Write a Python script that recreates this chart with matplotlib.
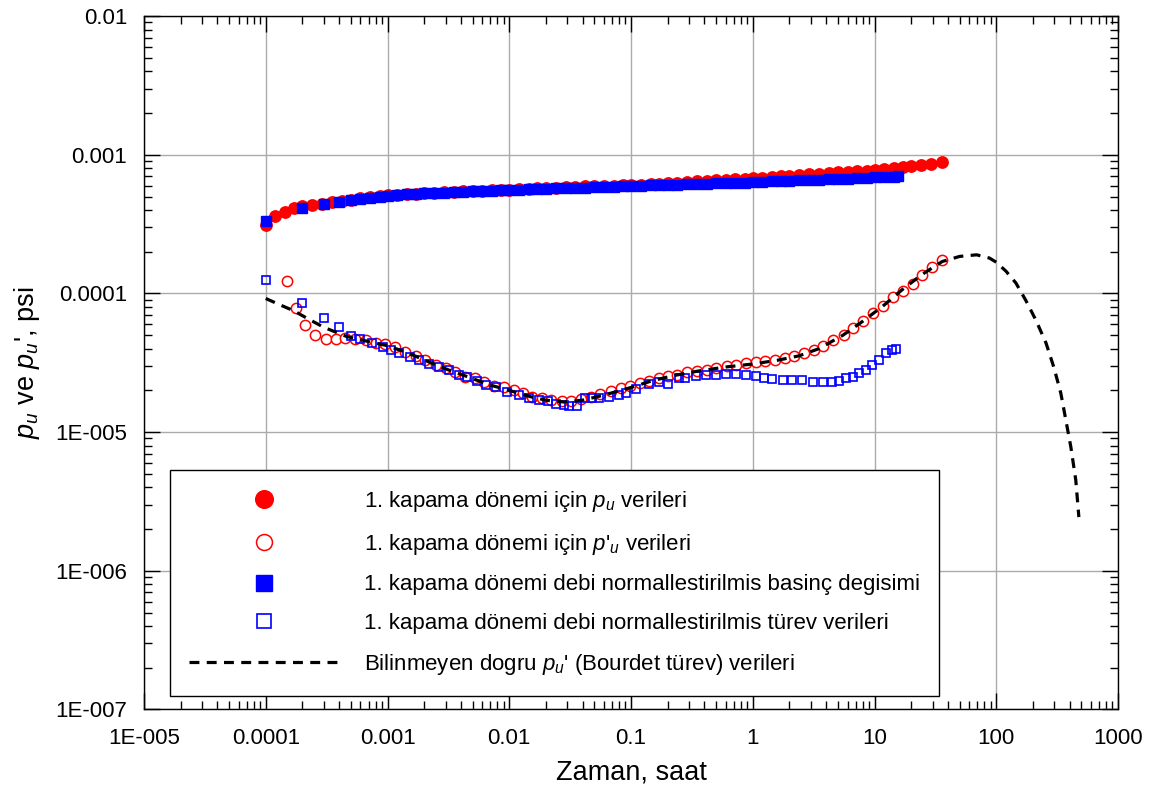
import matplotlib
matplotlib.use("Agg")
import matplotlib.pyplot as plt
from matplotlib.ticker import FixedLocator, FixedFormatter, LogLocator, NullFormatter

params = {
    "font.family": "Liberation Sans",
    "mathtext.fontset": "custom",
    "mathtext.rm": "Liberation Sans",
    "mathtext.it": "Liberation Sans:italic",
    "mathtext.bf": "Liberation Sans:bold",
    "font.size": 16,
    "axes.linewidth": 1.0,
}
matplotlib.rcParams.update(params)

# 1. kapama donemi basinc verileri (pu)
t_pu = [1.0e-4, 1.2e-4, 1.45e-4, 1.7e-4, 2.0e-4, 2.4e-4, 2.9e-4, 3.5e-4, 4.2e-4, 5.0e-4,
        6.0e-4, 7.2e-4, 8.6e-4, 1.0e-3, 1.2e-3, 1.45e-3, 1.7e-3, 2.0e-3, 2.4e-3, 2.9e-3,
        3.5e-3, 4.2e-3, 5.0e-3, 6.0e-3, 7.2e-3, 8.6e-3, 0.010, 0.012, 0.0145, 0.017,
        0.020, 0.024, 0.029, 0.035, 0.042, 0.050, 0.060, 0.072, 0.086, 0.10,
        0.12, 0.145, 0.17, 0.20, 0.24, 0.29, 0.35, 0.42, 0.50, 0.60,
        0.72, 0.86, 1.0, 1.2, 1.45, 1.7, 2.0, 2.4, 2.9, 3.5,
        4.2, 5.0, 6.0, 7.2, 8.6, 10.0, 12.0, 14.5, 17.0, 20.0,
        24.0, 29.0, 35.7]
pu = [3.13e-4, 3.60e-4, 3.90e-4, 4.10e-4, 4.25e-4, 4.35e-4, 4.45e-4, 4.55e-4, 4.65e-4, 4.75e-4,
      4.85e-4, 4.95e-4, 5.04e-4, 5.12e-4, 5.16e-4, 5.20e-4, 5.24e-4, 5.28e-4, 5.32e-4, 5.36e-4,
      5.40e-4, 5.44e-4, 5.48e-4, 5.51e-4, 5.54e-4, 5.57e-4, 5.60e-4, 5.64e-4, 5.68e-4, 5.72e-4,
      5.76e-4, 5.80e-4, 5.84e-4, 5.88e-4, 5.91e-4, 5.94e-4, 5.97e-4, 6.00e-4, 6.03e-4, 6.05e-4,
      6.10e-4, 6.15e-4, 6.20e-4, 6.25e-4, 6.31e-4, 6.37e-4, 6.43e-4, 6.49e-4, 6.55e-4, 6.61e-4,
      6.66e-4, 6.71e-4, 6.76e-4, 6.84e-4, 6.92e-4, 7.00e-4, 7.08e-4, 7.16e-4, 7.24e-4, 7.32e-4,
      7.40e-4, 7.47e-4, 7.54e-4, 7.61e-4, 7.68e-4, 7.75e-4, 7.87e-4, 8.00e-4, 8.13e-4, 8.27e-4,
      8.42e-4, 8.62e-4, 8.90e-4]

# 1. kapama donemi turev verileri (pu')
t_dpu = [1.5e-4, 1.76e-4, 2.1e-4, 2.55e-4, 3.1e-4, 3.75e-4, 4.5e-4, 5.4e-4, 6.6e-4, 8.0e-4,
         9.6e-4, 1.16e-3, 1.4e-3, 1.7e-3, 2.05e-3, 2.5e-3, 3.0e-3, 3.6e-3, 4.3e-3, 5.2e-3,
         6.2e-3, 7.5e-3, 9.0e-3, 0.011, 0.013, 0.0155, 0.0185, 0.022, 0.027, 0.032,
         0.039, 0.047, 0.056, 0.068, 0.082, 0.098, 0.118, 0.14, 0.17, 0.20,
         0.24, 0.29, 0.35, 0.42, 0.50, 0.61, 0.73, 0.88, 1.06, 1.27,
         1.52, 1.83, 2.2, 2.65, 3.2, 3.8, 4.6, 5.6, 6.7, 8.1,
         9.7, 11.7, 14.1, 17.0, 20.6, 24.5, 29.5, 35.7]
dpu = [1.24e-4, 7.9e-5, 5.9e-5, 5.0e-5, 4.7e-5, 4.7e-5, 4.8e-5, 4.7e-5, 4.6e-5, 4.4e-5,
       4.3e-5, 4.1e-5, 3.8e-5, 3.55e-5, 3.3e-5, 3.05e-5, 2.9e-5, 2.7e-5, 2.5e-5, 2.45e-5,
       2.3e-5, 2.15e-5, 2.1e-5, 2.0e-5, 1.9e-5, 1.8e-5, 1.75e-5, 1.7e-5, 1.68e-5, 1.68e-5,
       1.72e-5, 1.78e-5, 1.87e-5, 1.97e-5, 2.07e-5, 2.15e-5, 2.25e-5, 2.35e-5, 2.45e-5, 2.55e-5,
       2.6e-5, 2.7e-5, 2.75e-5, 2.8e-5, 2.9e-5, 3.0e-5, 3.05e-5, 3.15e-5, 3.2e-5, 3.25e-5,
       3.3e-5, 3.4e-5, 3.55e-5, 3.7e-5, 3.9e-5, 4.2e-5, 4.6e-5, 5.0e-5, 5.6e-5, 6.3e-5,
       7.2e-5, 8.1e-5, 9.4e-5, 1.05e-4, 1.18e-4, 1.35e-4, 1.55e-4, 1.73e-4]

# debi normallestirilmis basinc degisimi
t_pn = [1.0e-4, 2.0e-4, 3.0e-4, 4.0e-4, 5.0e-4, 6.0e-4, 7.2e-4, 8.6e-4, 1.0e-3, 1.2e-3,
        1.45e-3, 1.7e-3, 2.0e-3, 2.4e-3, 2.9e-3, 3.5e-3, 4.2e-3, 5.0e-3, 6.0e-3, 7.2e-3,
        8.6e-3, 0.010, 0.012, 0.0145, 0.017, 0.020, 0.024, 0.029, 0.035, 0.042,
        0.050, 0.060, 0.072, 0.086, 0.10, 0.12, 0.145, 0.17, 0.20, 0.24,
        0.29, 0.35, 0.42, 0.50, 0.60, 0.72, 0.86, 1.0, 1.2, 1.45,
        1.7, 2.0, 2.4, 2.9, 3.5, 4.2, 5.0, 6.0, 7.2, 8.6,
        10.0, 12.0, 14.5, 15.5]
pn = [3.35e-4, 4.15e-4, 4.40e-4, 4.60e-4, 4.72e-4, 4.82e-4, 4.92e-4, 5.00e-4, 5.08e-4, 5.13e-4,
      5.18e-4, 5.22e-4, 5.26e-4, 5.30e-4, 5.34e-4, 5.38e-4, 5.42e-4, 5.45e-4, 5.48e-4, 5.51e-4,
      5.54e-4, 5.57e-4, 5.60e-4, 5.63e-4, 5.66e-4, 5.69e-4, 5.72e-4, 5.75e-4, 5.78e-4, 5.81e-4,
      5.84e-4, 5.87e-4, 5.90e-4, 5.93e-4, 5.95e-4, 5.98e-4, 6.01e-4, 6.04e-4, 6.07e-4, 6.10e-4,
      6.13e-4, 6.16e-4, 6.19e-4, 6.22e-4, 6.25e-4, 6.28e-4, 6.31e-4, 6.34e-4, 6.38e-4, 6.42e-4,
      6.46e-4, 6.50e-4, 6.54e-4, 6.58e-4, 6.62e-4, 6.66e-4, 6.70e-4, 6.74e-4, 6.78e-4, 6.82e-4,
      6.86e-4, 6.90e-4, 6.95e-4, 6.98e-4]

# debi normallestirilmis turev verileri
t_dpn = [1.0e-4, 2.0e-4, 3.0e-4, 4.0e-4, 5.0e-4, 6.0e-4, 7.5e-4, 9.2e-4, 1.07e-3, 1.25e-3,
         1.53e-3, 1.8e-3, 2.2e-3, 2.65e-3, 3.2e-3, 3.9e-3, 4.5e-3, 5.4e-3, 6.5e-3, 7.8e-3,
         9.5e-3, 0.012, 0.0145, 0.0175, 0.021, 0.024, 0.028, 0.031, 0.036, 0.042,
         0.048, 0.055, 0.066, 0.080, 0.091, 0.110, 0.141, 0.171, 0.20, 0.25,
         0.28, 0.34, 0.41, 0.50, 0.60, 0.73, 0.88, 1.06, 1.24, 1.45,
         1.76, 2.12, 2.56, 3.1, 3.74, 4.5, 5.1, 5.8, 6.6, 7.5,
         8.5, 9.6, 10.9, 12.4, 14.0, 15.0]
dpn = [1.26e-4, 8.6e-5, 6.6e-5, 5.7e-5, 4.9e-5, 4.7e-5, 4.4e-5, 4.1e-5, 3.9e-5, 3.7e-5,
       3.5e-5, 3.3e-5, 3.1e-5, 2.95e-5, 2.8e-5, 2.6e-5, 2.5e-5, 2.35e-5, 2.2e-5, 2.1e-5,
       1.95e-5, 1.85e-5, 1.75e-5, 1.7e-5, 1.68e-5, 1.6e-5, 1.56e-5, 1.55e-5, 1.55e-5, 1.76e-5,
       1.76e-5, 1.76e-5, 1.8e-5, 1.85e-5, 1.9e-5, 2.06e-5, 2.24e-5, 2.3e-5, 2.24e-5, 2.44e-5,
       2.44e-5, 2.53e-5, 2.58e-5, 2.58e-5, 2.62e-5, 2.62e-5, 2.6e-5, 2.53e-5, 2.44e-5, 2.4e-5,
       2.37e-5, 2.37e-5, 2.37e-5, 2.3e-5, 2.3e-5, 2.3e-5, 2.34e-5, 2.44e-5, 2.5e-5, 2.65e-5,
       2.8e-5, 3.04e-5, 3.3e-5, 3.7e-5, 3.9e-5, 4.0e-5]

# Bilinmeyen dogru Bourdet turevi
t_bourdet = [1.0e-4, 1.3e-4, 1.7e-4, 2.2e-4, 3.0e-4, 4.6e-4, 7.0e-4, 1.0e-3, 1.5e-3, 2.2e-3,
             3.2e-3, 4.6e-3, 6.8e-3, 0.010, 0.015, 0.020, 0.028, 0.040, 0.060, 0.10,
             0.15, 0.22, 0.35, 0.60, 1.0, 1.6, 2.4, 3.5, 5.5, 8.0,
             11.7, 17.0, 24.5, 36.0, 50.0, 69.0, 88.0, 100.0, 120.0, 145.0,
             175.0, 212.0, 256.0, 297.0, 339.0, 373.0, 410.0, 450.0, 477.0]
p_bourdet = [9.2e-5, 8.3e-5, 7.5e-5, 6.6e-5, 5.7e-5, 4.9e-5, 4.5e-5, 4.2e-5, 3.7e-5, 3.2e-5,
             2.8e-5, 2.5e-5, 2.2e-5, 2.0e-5, 1.8e-5, 1.7e-5, 1.65e-5, 1.7e-5, 1.85e-5, 2.1e-5,
             2.35e-5, 2.55e-5, 2.75e-5, 2.95e-5, 3.1e-5, 3.3e-5, 3.55e-5, 4.0e-5, 5.0e-5, 6.3e-5,
             8.1e-5, 1.07e-4, 1.37e-4, 1.7e-4, 1.85e-4, 1.9e-4, 1.8e-4, 1.68e-4, 1.45e-4, 1.19e-4,
             8.9e-5, 6.4e-5, 4.4e-5, 2.94e-5, 1.91e-5, 1.22e-5, 7.8e-6, 4.5e-6, 2.44e-6]

x_ticks = [1e-5, 1e-4, 1e-3, 1e-2, 1e-1, 1, 10, 100, 1000]
x_ticklabels = ["1E-005", "0.0001", "0.001", "0.01", "0.1", "1", "10", "100", "1000"]
y_ticks = [1e-7, 1e-6, 1e-5, 1e-4, 1e-3, 1e-2]
y_ticklabels = ["1E-007", "1E-006", "1E-005", "0.0001", "0.001", "0.01"]

red = "#ff0000"
blue = "#0000ff"

fig = plt.figure(figsize=(11.52, 7.87), dpi=100)
ax = fig.add_axes([0.125, 0.0985, 0.8455, 0.881])

ax.plot(t_pu, pu, "o", color=red, ms=8.2, mec=red, zorder=3,
        label=r"1. kapama dönemi için $p_u$ verileri")
ax.plot(t_dpu, dpu, "o", color=red, ms=7.4, mfc="white", mec=red, mew=1.1, zorder=3,
        label=r"1. kapama dönemi için $p$'$_u$ verileri")
ax.plot(t_pn, pn, "s", color=blue, ms=7.2, mec=blue, zorder=4,
        label="1. kapama dönemi debi normallestirilmis basinç degisimi")
ax.plot(t_dpn, dpn, "s", color=blue, ms=6.2, mfc="none", mec=blue, mew=1.2, zorder=4,
        label="1. kapama dönemi debi normallestirilmis türev verileri")
ax.plot(t_bourdet, p_bourdet, color="black", lw=2.3, ls=(0, (3.1, 2.3)), zorder=5,
        label=r"Bilinmeyen dogru $p_u$' (Bourdet türev) verileri")

ax.set_xscale("log")
ax.set_yscale("log")
ax.set_xlim(1e-5, 1000)
ax.set_ylim(1e-7, 1e-2)

ax.xaxis.set_major_locator(FixedLocator(x_ticks))
ax.xaxis.set_major_formatter(FixedFormatter(x_ticklabels))
ax.yaxis.set_major_locator(FixedLocator(y_ticks))
ax.yaxis.set_major_formatter(FixedFormatter(y_ticklabels))
for axis in (ax.xaxis, ax.yaxis):
    axis.set_minor_locator(LogLocator(base=10, subs=range(2, 10), numticks=20))
    axis.set_minor_formatter(NullFormatter())

ax.tick_params(which="both", direction="in", top=True, right=True, width=1.0, colors="black")
ax.tick_params(which="major", length=11.5, labelsize=16)
ax.tick_params(which="minor", length=5.8)
ax.tick_params(axis="y", which="major", pad=12)
ax.tick_params(axis="x", which="major", pad=13)

ax.grid(which="major", color="#ababab", lw=1.0)
ax.set_axisbelow(True)

ax.set_xlabel("Zaman, saat", fontsize=19.5, labelpad=8)
ax.set_ylabel(r"$p_u$ ve $p_u$', psi", fontsize=19.5, labelpad=10)

leg = ax.legend(loc="upper left", bbox_to_anchor=(0.0267, 0.3455), borderaxespad=0,
                fontsize=16, handlelength=6.8, handletextpad=1.1, borderpad=0.85,
                labelspacing=0.8, numpoints=1, markerscale=1.55,
                fancybox=False, framealpha=1)
leg.get_frame().set_edgecolor("black")
leg.get_frame().set_linewidth(1.0)
leg.set_zorder(6)

plt.savefig("out.png", dpi=100)
plt.close()
